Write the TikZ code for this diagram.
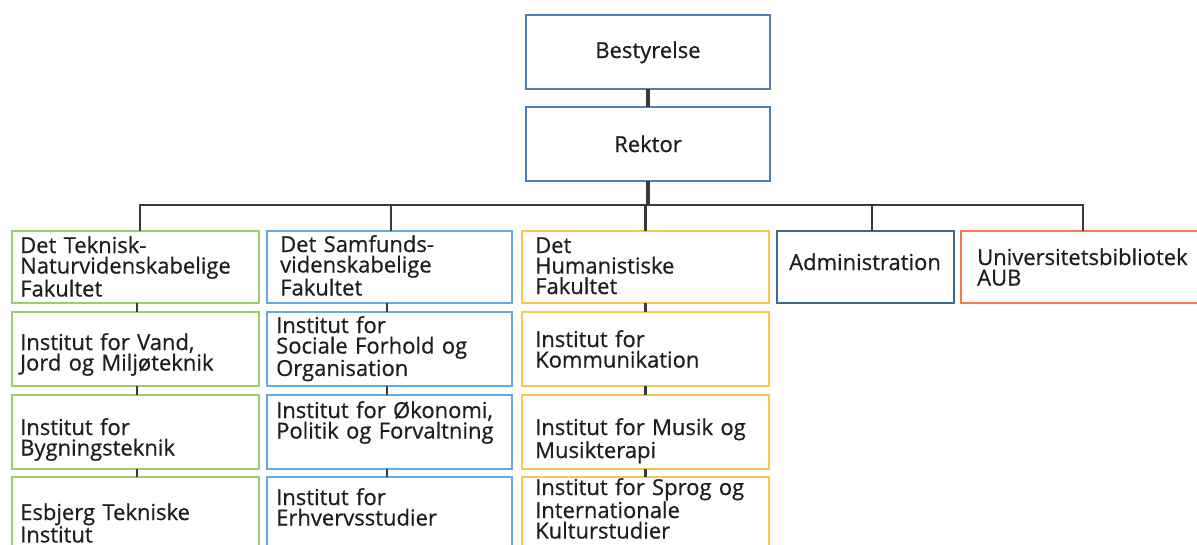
\documentclass[tikz,border=0pt]{standalone}
\usepackage{fontspec}
\setmainfont{Open Sans}
\newfontfamily\chartfont{Open Sans}[FakeBold=0.6]
\usetikzlibrary{calc}

\definecolor{linegray}{HTML}{3A3A3A}
\definecolor{boardblue}{HTML}{4F7FB5}
\definecolor{techgreen}{HTML}{9DCB6E}
\definecolor{socblue}{HTML}{62AAE2}
\definecolor{humyellow}{HTML}{F8C847}
\definecolor{admblue}{HTML}{3E6A8C}
\definecolor{libred}{HTML}{F27A52}
\definecolor{inktext}{HTML}{1E1E1E}

\tikzset{
  unitbox/.style={draw=#1, line width=2.4pt, fill=white, inner sep=0pt, outer sep=0pt},
  unitlabel/.style={anchor=base west, inner sep=0pt, text width=300pt, align=left,
    font=\chartfont\fontsize{22}{20.5}\selectfont\addfontfeature{FakeBold=0.6}, text=inktext},
  toplabel/.style={anchor=base, inner sep=0pt,
    font=\chartfont\fontsize{22}{20.5}\selectfont\addfontfeature{FakeBold=0.6}, text=inktext},
  conn/.style={draw=linegray, line width=3.6pt},
  busline/.style={draw=linegray, line width=2.2pt},
  rowlink/.style={draw=linegray, line width=2.2pt},
}

% box: name, colour, left, top, right, bottom (in px, y downwards)
\newcommand\orgunit[6]{%
  \node[unitbox=#2, minimum width={(#5-#3)*1pt}, minimum height={(#6-#4)*1pt}]
    (#1) at ({(#3+#5)/2*1pt},{-(#4+#6)/2*1pt}) {};}
% text: name, box, left inset, first baseline below top, lines
\newcommand\orgtext[5]{%
  \node[unitlabel] (#1) at ([xshift=#3pt,yshift=-#4pt]#2.north west) {#5};}

\begin{document}
\begin{tikzpicture}
\useasboundingbox (0,0) rectangle (1197pt,-544pt);
\clip (0,0) rectangle (1197pt,-544pt);

% top level
\orgunit{best}{boardblue}{526}{15}{770}{89}
\orgunit{rekt}{boardblue}{526}{107}{770}{181}
\node[toplabel] (tbest) at ([yshift=-43pt]best.north) {Bestyrelse};
\node[toplabel] (trekt) at ([yshift=-45pt]rekt.north) {Rektor};

% faculties and units
\orgunit{c1r1}{techgreen}{12}{231}{259}{303}
\orgunit{c1r2}{techgreen}{12}{312}{259}{386}
\orgunit{c1r3}{techgreen}{12}{395}{259}{469}
\orgunit{c1r4}{techgreen}{12}{477}{259}{551}

\orgunit{c2r1}{socblue}{267}{231}{512}{303}
\orgunit{c2r2}{socblue}{267}{312}{512}{386}
\orgunit{c2r3}{socblue}{267}{395}{512}{469}
\orgunit{c2r4}{socblue}{267}{477}{512}{551}

\orgunit{c3r1}{humyellow}{522}{231}{769}{303}
\orgunit{c3r2}{humyellow}{522}{312}{769}{386}
\orgunit{c3r3}{humyellow}{522}{395}{769}{469}
\orgunit{c3r4}{humyellow}{522}{477}{769}{551}

\orgunit{adm}{admblue}{777}{231}{954}{303}
\orgunit{lib}{libred}{961}{231}{1240}{303}

\orgtext{t11}{c1r1}{8}{22}{Det Teknisk-\\Naturvidenskabelige\\Fakultet}
\orgtext{t12}{c1r2}{8}{38}{Institut for Vand,\\Jord og Miljøteknik}
\orgtext{t13}{c1r3}{8}{40}{Institut for\\Bygningsteknik}
\orgtext{t14}{c1r4}{8}{43}{Esbjerg Tekniske\\Institut}

\orgtext{t21}{c2r1}{13}{21}{Det Samfunds-\\videnskabelige\\Fakultet}
\orgtext{t22}{c2r2}{9}{21}{Institut for\\Sociale Forhold og\\Organisation}
\orgtext{t23}{c2r3}{9}{23}{Institut for Økonomi,\\Politik og Forvaltning}
\orgtext{t24}{c2r4}{9}{28}{Institut for\\Erhvervsstudier}

\orgtext{t31}{c3r1}{13}{22}{Det\\Humanistiske\\Fakultet}
\orgtext{t32}{c3r2}{13}{35}{Institut for\\Kommunikation}
\orgtext{t33}{c3r3}{13}{40}{Institut for Musik og\\Musikterapi}
\orgtext{t34}{c3r4}{13}{18}{Institut for Sprog og\\Internationale\\Kulturstudier}

\orgtext{tadm}{adm}{12}{39}{Administration}
\orgtext{tlib}{lib}{16}{34}{Universitetsbibliotek\\AUB}

% connectors
\draw[conn] (best.south) -- (rekt.north);
\coordinate (bus) at ($(rekt.south)+(0,-24pt)$);
\draw[conn] (rekt.south) -- (rekt.south |- bus);

\coordinate (d1) at ([xshift=4.5pt]c1r1.north);
\coordinate (d2) at ([xshift=1.5pt]c2r1.north);
\coordinate (d3) at (c3r1.north);
\coordinate (d4) at ([xshift=6.5pt]adm.north);
\coordinate (d5) at ([xshift=-17.5pt]lib.north);
\draw[busline] (d1) |- (d5 |- bus) -- (d5);
\draw[busline] (d2) -- (d2 |- bus);
\draw[busline] (d3) -- (d3 |- bus);
\draw[busline] (d4) -- (d4 |- bus);

\foreach \c/\dx in {c1/1.5, c2/-2.5, c3/0} {
  \draw[rowlink] ([xshift=\dx pt]\c r1.south) -- ([xshift=\dx pt]\c r2.north);
  \draw[rowlink] ([xshift=\dx pt]\c r2.south) -- ([xshift=\dx pt]\c r3.north);
  \draw[rowlink] ([xshift=\dx pt]\c r3.south) -- ([xshift=\dx pt]\c r4.north);
}
\end{tikzpicture}
\end{document}
